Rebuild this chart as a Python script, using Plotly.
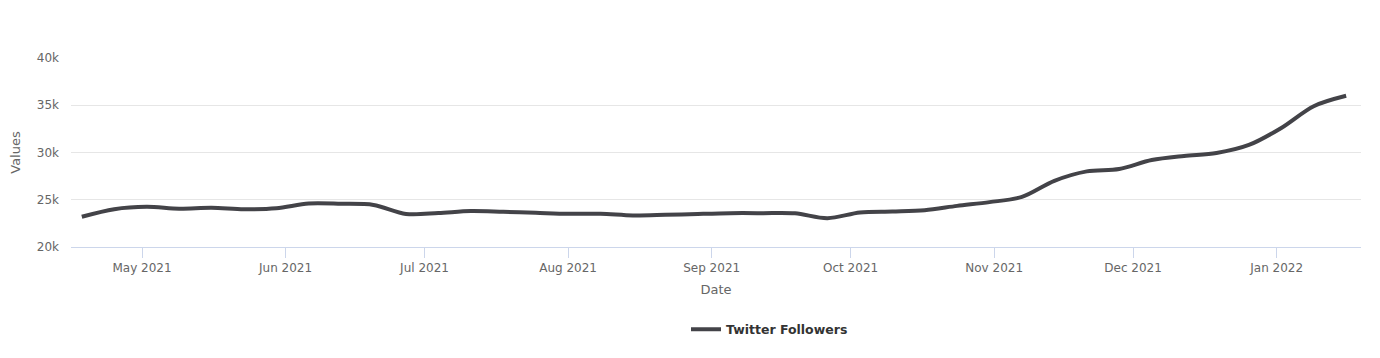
import plotly.graph_objects as go

# ---- data ----
dates = [
    "2021-04-18", "2021-04-25", "2021-05-02", "2021-05-09", "2021-05-16",
    "2021-05-23", "2021-05-30", "2021-06-06", "2021-06-13", "2021-06-20",
    "2021-06-27", "2021-07-04", "2021-07-11", "2021-07-18", "2021-07-25",
    "2021-08-01", "2021-08-08", "2021-08-15", "2021-08-22", "2021-08-29",
    "2021-09-05", "2021-09-12", "2021-09-19", "2021-09-26", "2021-10-03",
    "2021-10-10", "2021-10-17", "2021-10-24", "2021-10-31", "2021-11-07",
    "2021-11-14", "2021-11-21", "2021-11-28", "2021-12-05", "2021-12-12",
    "2021-12-19", "2021-12-26", "2022-01-02", "2022-01-09", "2022-01-16",
]
twitter_followers = [
    23200, 24000, 24250, 24050, 24150,
    24000, 24100, 24600, 24570, 24450,
    23500, 23600, 23800, 23720, 23620,
    23520, 23520, 23330, 23400, 23500,
    23580, 23580, 23560, 23050, 23650,
    23760, 23900, 24350, 24750, 25300,
    27000, 28000, 28250, 29200, 29640,
    29950, 30800, 32600, 34900, 36000,
]
series_name = "Twitter Followers"
y_tick_values = [20000, 25000, 30000, 35000, 40000]
y_tick_labels = ["20k", "25k", "30k", "35k", "40k"]

# ---- geometry (page has an 8px body margin, so figure coords = page - 8) ----
OFF = 8
W, H = 1380 - OFF, 358 - OFF
PL, PR, PT, PB = 71 - OFF, 1361 - OFF, 58.3 - OFF, 246.7 - OFF


def px2x(px):
    return (px - OFF - PL) / (PR - PL)


def py2y(py):
    return (PB - (py - OFF)) / (PB - PT)


FONT = "DejaVu Sans"

fig = go.Figure()
fig.add_trace(go.Scatter(
    x=dates, y=twitter_followers, name=series_name,
    mode="lines",
    line=dict(color="#434348", width=4, shape="spline", smoothing=0.9),
    showlegend=True,
))

fig.update_layout(
    width=W, height=H,
    margin=dict(l=PL, r=W - PR, t=PT, b=H - PB, autoexpand=False),
    paper_bgcolor="#ffffff", plot_bgcolor="#ffffff",
    font=dict(family=FONT, color="#666666", size=12),
    showlegend=True,
    legend=dict(
        orientation="h", x=px2x(686), xanchor="left",
        y=py2y(329), yanchor="middle",
        font=dict(family=FONT, size=12.5, color="#333333", weight="bold"),
        bgcolor="rgba(0,0,0,0)",
    ),
    hovermode="x",
)

fig.update_xaxes(
    type="date",
    range=["2021-04-15 16:00", "2022-01-19 05:00"],
    tick0="2021-05-01", dtick="M1", tickformat="%b %Y",
    showgrid=False, showline=True, linecolor="#ccd6eb", linewidth=1,
    ticks="outside", ticklen=10, tickcolor="#ccd6eb", tickwidth=1,
    tickfont=dict(family=FONT, size=12, color="#666666"),
    title=dict(text="Date", font=dict(family=FONT, size=13, color="#666666"),
               standoff=10),
    zeroline=False, automargin=False,
)
fig.update_yaxes(
    range=[20000, 40000],
    tickvals=y_tick_values, ticktext=y_tick_labels,
    showgrid=True, gridcolor="#e6e6e6", gridwidth=1,
    showline=False, zeroline=False, ticks="",
    ticklabelstandoff=11,
    tickfont=dict(family=FONT, size=12, color="#666666"),
    title=dict(text="Values", font=dict(family=FONT, size=13, color="#666666"),
               standoff=14),
    automargin=False,
)

fig.write_html("out.html")
